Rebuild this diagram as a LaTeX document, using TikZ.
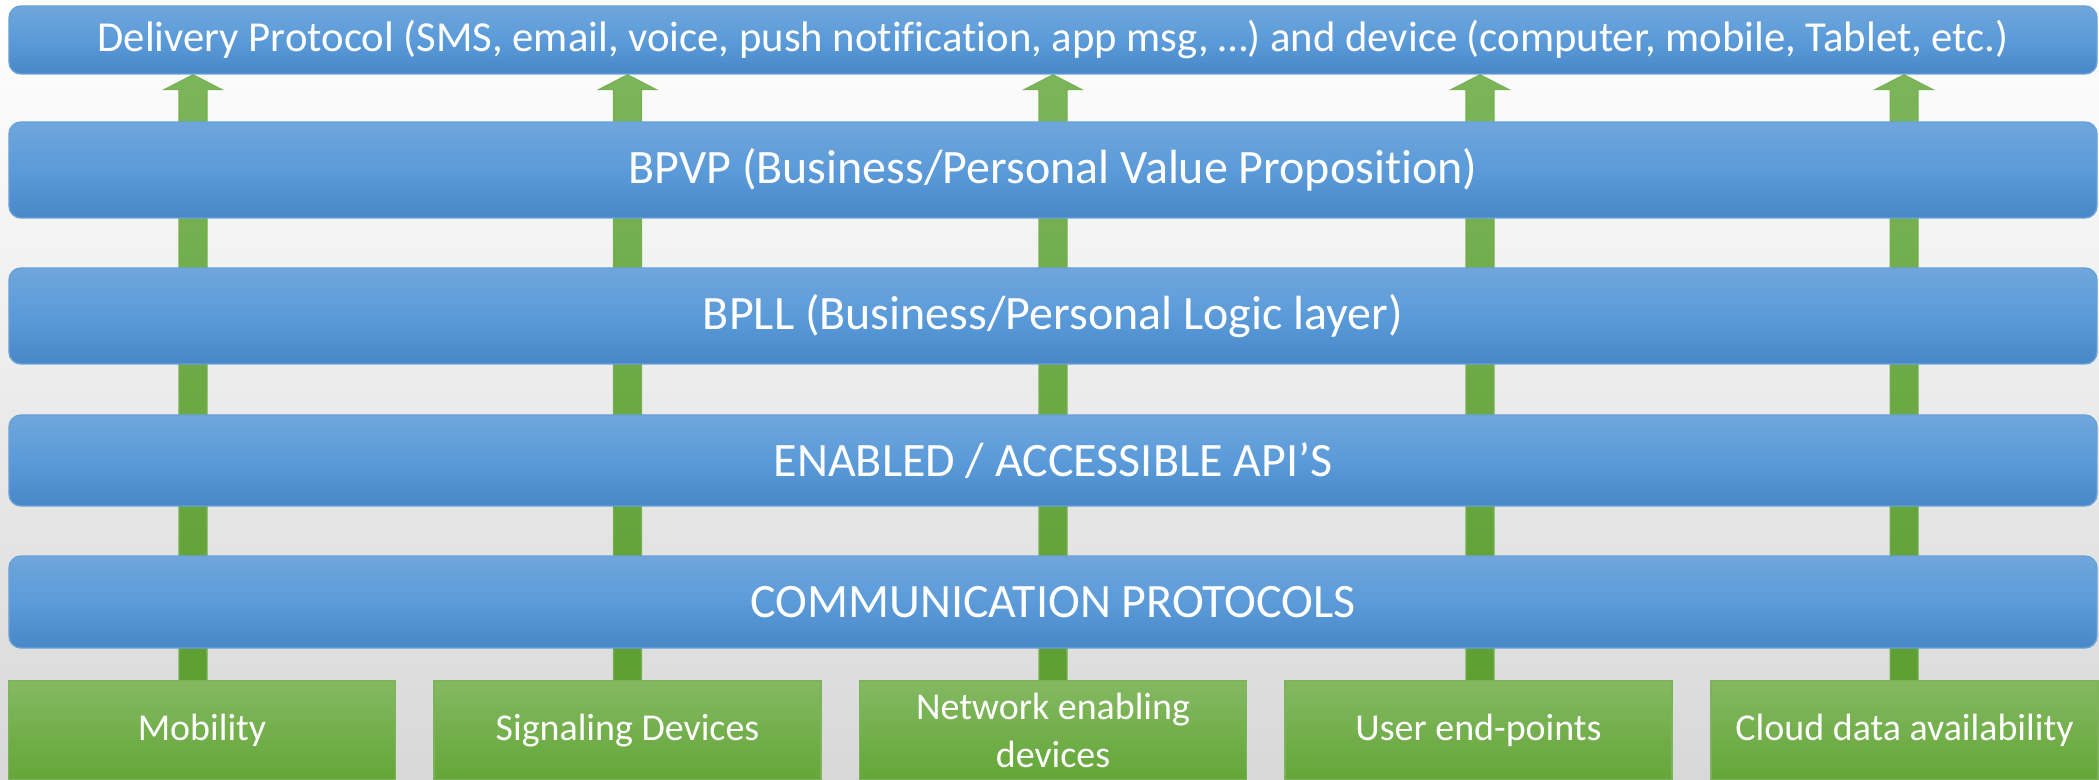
\documentclass[tikz,border=0pt]{standalone}
\usepackage{fontspec}
\setmainfont{Carlito}[Ligatures=NoCommon]
\usetikzlibrary{calc}
\definecolor{blueT}{HTML}{6FA6DC}
\definecolor{blueM}{HTML}{5B9BD9}
\definecolor{blueB}{HTML}{4887C8}
\definecolor{blueE}{HTML}{6AA2D8}
\definecolor{grT}{HTML}{84B962}
\definecolor{grB}{HTML}{64A638}
\definecolor{grE}{HTML}{7DB35A}
\definecolor{arT}{HTML}{7CB55A}
\definecolor{arB}{HTML}{5E9F32}
\definecolor{arE}{HTML}{76B050}
\definecolor{bgB}{HTML}{D8D8D8}
\pgfdeclarelayer{bglayer}
\pgfdeclarelayer{arrowlayer}
\pgfsetlayers{bglayer,arrowlayer,main}
\begin{document}
\begin{tikzpicture}[x=1cm,y=1cm,
  layerbar/.style={rectangle, rounded corners=0.12cm, minimum width=20.88cm,
    top color=blueT, bottom color=blueB, middle color=blueM, draw=blueE,
    line width=0.4pt, text=white, inner sep=0pt},
  bigtext/.style={font=\fontsize{13.65}{16}\selectfont},
  srcbox/.style={rectangle, minimum width=3.87cm, minimum height=0.99cm,
    top color=grT, bottom color=grB, draw=grE, line width=0.4pt,
    text=white, align=center, inner sep=0pt,
    font=\fontsize{10.8}{13.4}\selectfont},
  uparrow/.style={top color=arT, bottom color=arB, draw=arE, line width=0.3pt}]
\useasboundingbox (0,0) rectangle (20.99,-7.80);
\begin{pgfonlayer}{bglayer}
  \shade[top color=white, bottom color=bgB] (0,0) rectangle (20.99,-7.80);
\end{pgfonlayer}

\node[layerbar, minimum height=0.68cm, font=\fontsize{12.15}{14}\selectfont] (top) at (10.53,-0.40)
  {Delivery Protocol (SMS, email, voice, push notification, app msg, …) and device (computer, mobile, Tablet, etc.)};
\node[layerbar, bigtext, minimum height=0.96cm] (bpvp) at (10.53,-1.70) {BPVP (Business/Personal Value Proposition)};
\node[layerbar, bigtext, minimum height=0.96cm] (bpll) at (10.53,-3.16) {BPLL (Business/Personal Logic layer)};
\node[layerbar, bigtext, minimum height=0.91cm] (api) at (10.53,-4.605) {ENABLED / ACCESSIBLE API’S};
\node[layerbar, bigtext, minimum height=0.92cm] (comm) at (10.53,-6.02) {COMMUNICATION PROTOCOLS};

\node[srcbox] (g1) at (2.02,-7.305) {Mobility};
\node[srcbox] (g2) at (6.275,-7.305) {Signaling Devices};
\node[srcbox] (g3) at (10.53,-7.305) {Network enabling\\devices};
\node[srcbox] (g4) at (14.785,-7.305) {User end-points};
\node[srcbox] (g5) at (19.045,-7.305) {Cloud data availability};

\begin{pgfonlayer}{arrowlayer}
\foreach \b/\dx in {g1/-0.09, g2/0, g3/0, g4/0.015, g5/-0.005} {
  \path[uparrow] let \p1=($(\b.north)+(\dx,0)$), \p2=(top.south) in
    (\x1-0.14cm,\y1) -- (\x1-0.14cm,\y2-0.15cm) -- (\x1-0.29cm,\y2-0.15cm)
    -- (\x1,\y2) -- (\x1+0.29cm,\y2-0.15cm) -- (\x1+0.14cm,\y2-0.15cm)
    -- (\x1+0.14cm,\y1) -- cycle;
}
\end{pgfonlayer}
\end{tikzpicture}
\end{document}
